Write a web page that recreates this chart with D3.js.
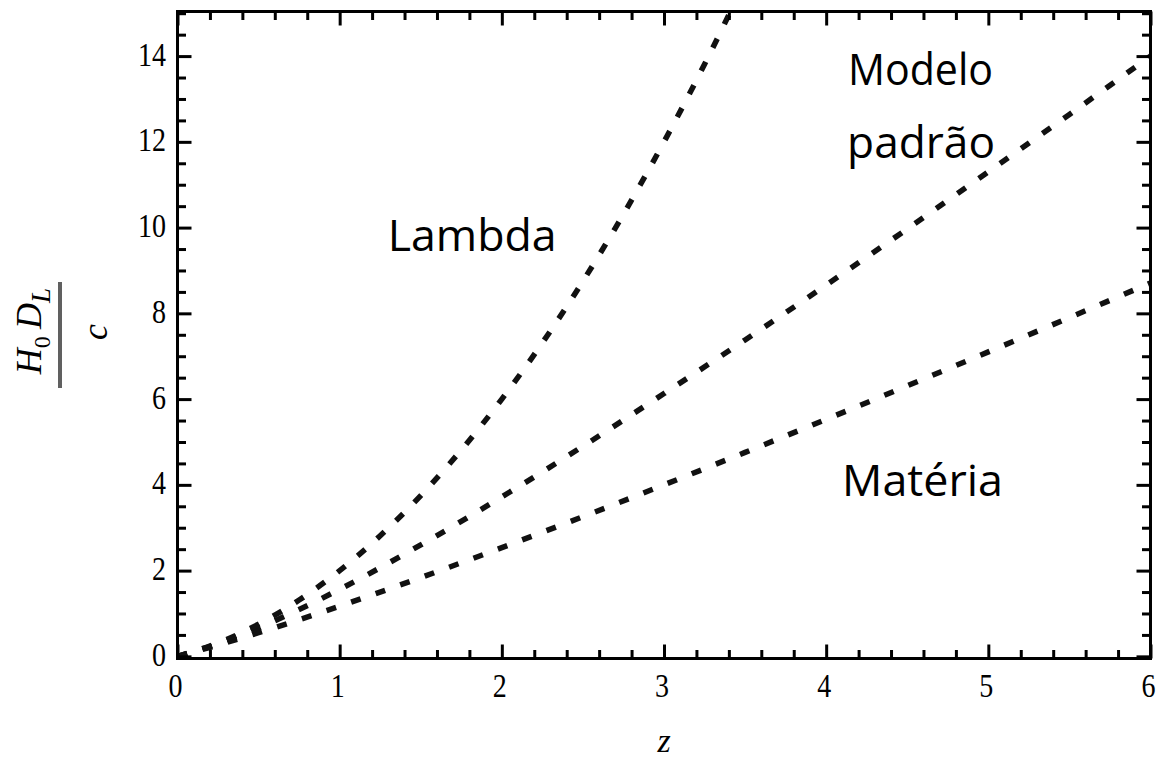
<!DOCTYPE html>
<html><head><meta charset="utf-8">
<script src="https://cdn.jsdelivr.net/npm/d3@7"></script>
<style>html,body{margin:0;padding:0;background:#fff;} svg{display:block}</style>
</head><body>
<svg id="chart" width="1157" height="761"></svg>
<script>
// ---- data ----
const zGrid = [0, 0.25, 0.5, 0.75, 1, 1.5, 2, 2.5, 3, 3.5, 4, 4.5, 5, 5.5, 6];
const materia = [0, 0.264, 0.551, 0.854, 1.172, 1.838, 2.536, 3.258, 4.0, 4.757, 5.528, 6.31, 7.101, 7.901, 8.708];
const modeloPadrao = [0, 0.295, 0.665, 1.093, 1.563, 2.60, 3.72, 4.90, 6.13, 7.38, 8.66, 9.97, 11.30, 12.64, 14.00];
const zLambda = [0, 0.25, 0.5, 0.75, 1, 1.25, 1.5, 1.75, 2, 2.25, 2.5, 2.75, 3, 3.25, 3.5];
const lambda = [0, 0.313, 0.75, 1.313, 2, 2.813, 3.75, 4.813, 6, 7.313, 8.75, 10.313, 12, 13.81, 15.75];
const xMajorTicks = [0, 1, 2, 3, 4, 5, 6];
const xTickLabels = ["0", "1", "2", "3", "4", "5", "6"];
const yMajorTicks = [0, 2, 4, 6, 8, 10, 12, 14];
const yTickLabels = ["0", "2", "4", "6", "8", "10", "12", "14"];
const curveLabels = [
  {text: "Lambda", z: 1.296, v: 9.46, len: 169},
  {text: "Modelo", z: 4.135, v: 13.32, len: 145},
  {text: "padrão", z: 4.129, v: 11.62, len: 148},
  {text: "Matéria", z: 4.098, v: 3.73, len: 161}
];

// ---- layout ----
const W = 1157, H = 761;
const pL = 177.5, pR = 1150.5, pT = 11.5, pB = 658.5;
const svg = d3.select("#chart");
svg.append("rect").attr("width", W).attr("height", H).attr("fill", "#fff");

const x = d3.scaleLinear().domain([0, 6]).range([pL, pR]);
const y = d3.scaleLinear().domain([-0.05, 15.04]).range([pB, pT]);

svg.append("defs").append("clipPath").attr("id", "plotClip")
  .append("rect").attr("x", pL).attr("y", pT)
  .attr("width", pR - pL).attr("height", pB - pT);

const line = d3.line().x(d => x(d[0])).y(d => y(d[1])).curve(d3.curveMonotoneX);
const plot = svg.append("g").attr("clip-path", "url(#plotClip)");
[[zGrid, materia], [zGrid, modeloPadrao], [zLambda, lambda]].forEach(([zs, vs]) => {
  plot.append("path")
    .attr("d", line(d3.zip(zs, vs)))
    .attr("fill", "none")
    .attr("stroke", "#111")
    .attr("stroke-width", 5.5)
    .attr("stroke-dasharray", "10,16");
});

// ---- axes / frame ----
const xMinor = d3.range(0, 6.001, 0.2).map(v => +v.toFixed(2)).filter(v => Math.abs(v - Math.round(v)) > 1e-6);
const yMinor = d3.range(0, 15.001, 0.5).filter(v => v % 2 !== 0);
const MAJ = 14, MIN = 8.5;

function styleAxis(g) {
  g.select(".domain").remove();
  g.selectAll(".tick line").attr("stroke", "#000").attr("stroke-width", 3);
}

// bottom
const gb = svg.append("g").attr("transform", `translate(0,${pB})`)
  .call(d3.axisBottom(x).tickValues(xMajorTicks).tickSize(-MAJ).tickFormat((d, i) => xTickLabels[i]));
styleAxis(gb);
gb.selectAll(".tick text")
  .attr("y", 38.5).attr("dy", 0).attr("x", -2.5)
  .attr("font-family", "'Liberation Serif', serif").attr("font-size", 33).attr("fill", "#000")
  .attr("textLength", d => 14 * String(d).length).attr("lengthAdjust", "spacingAndGlyphs");
svg.append("g").attr("transform", `translate(0,${pB})`)
  .call(d3.axisBottom(x).tickValues(xMinor).tickSize(-MIN).tickFormat("")).call(styleAxis);
// top
svg.append("g").attr("transform", `translate(0,${pT})`)
  .call(d3.axisTop(x).tickValues(xMajorTicks).tickSize(-MAJ).tickFormat("")).call(styleAxis);
svg.append("g").attr("transform", `translate(0,${pT})`)
  .call(d3.axisTop(x).tickValues(xMinor).tickSize(-MIN).tickFormat("")).call(styleAxis);
// left
const gl = svg.append("g").attr("transform", `translate(${pL},0)`)
  .call(d3.axisLeft(y).tickValues(yMajorTicks).tickSize(-MAJ).tickFormat((d, i) => yTickLabels[i]));
styleAxis(gl);
gl.selectAll(".tick text")
  .attr("x", -11.5).attr("dy", 0).attr("y", 9)
  .attr("font-family", "'Liberation Serif', serif").attr("font-size", 33).attr("fill", "#000")
  .attr("textLength", d => 14 * String(d).length).attr("lengthAdjust", "spacingAndGlyphs");
svg.append("g").attr("transform", `translate(${pL},0)`)
  .call(d3.axisLeft(y).tickValues(yMinor).tickSize(-MIN).tickFormat("")).call(styleAxis);
// right
svg.append("g").attr("transform", `translate(${pR},0)`)
  .call(d3.axisRight(y).tickValues(yMajorTicks).tickSize(-MAJ).tickFormat("")).call(styleAxis);
svg.append("g").attr("transform", `translate(${pR},0)`)
  .call(d3.axisRight(y).tickValues(yMinor).tickSize(-MIN).tickFormat("")).call(styleAxis);

svg.append("rect").attr("x", pL).attr("y", pT)
  .attr("width", pR - pL).attr("height", pB - pT)
  .attr("fill", "none").attr("stroke", "#000").attr("stroke-width", 3);

// ---- axis titles ----
svg.append("text").attr("x", (pL + pR) / 2).attr("y", 752)
  .attr("text-anchor", "middle").attr("font-family", "'Liberation Serif', serif")
  .attr("font-style", "italic").attr("font-size", 34).attr("fill", "#000").text("z");

const yl = svg.append("g").attr("transform", "rotate(-90)");
const num = yl.append("text").attr("x", -331).attr("y", 41).attr("text-anchor", "middle")
  .attr("font-family", "'Liberation Serif', serif").attr("font-size", 36).attr("fill", "#000");
num.append("tspan").attr("font-style", "italic").text("H");
num.append("tspan").attr("font-size", 24).attr("dy", 9).text("0");
num.append("tspan").attr("font-style", "italic").attr("dy", -9).text("\u2009D");
num.append("tspan").attr("font-style", "italic").attr("font-size", 27).attr("dy", 9).text("L");
svg.append("rect").attr("x", 58).attr("y", (pT + pB) / 2 - 53).attr("width", 4).attr("height", 106).attr("fill", "#606060");
yl.append("text").attr("x", -332).attr("y", 107).attr("text-anchor", "middle")
  .attr("font-family", "'Liberation Serif', serif").attr("font-style", "italic")
  .attr("font-size", 36).attr("fill", "#000").text("c");

// ---- curve annotations ----
svg.append("g").selectAll("text").data(curveLabels).join("text")
  .attr("x", d => x(d.z)).attr("y", d => y(d.v))
  .attr("font-family", "'Open Sans', sans-serif").attr("font-size", 43).attr("fill", "#000")
  .attr("textLength", d => d.len).attr("lengthAdjust", "spacingAndGlyphs")
  .text(d => d.text);
</script>
</body></html>
